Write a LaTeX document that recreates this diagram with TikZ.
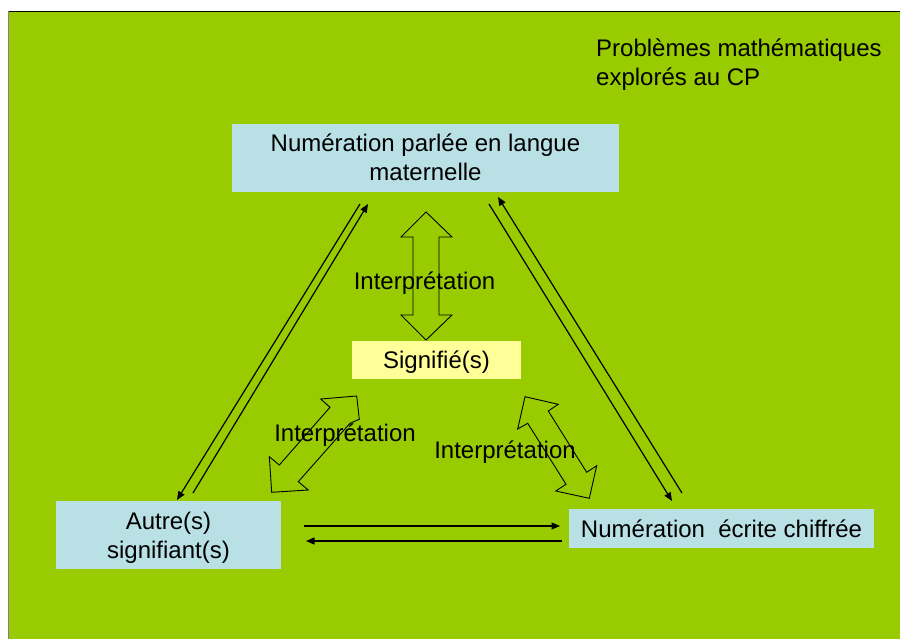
\documentclass[tikz,border=0pt]{standalone}
\usepackage{fontspec}
\setmainfont{Liberation Sans}
\usetikzlibrary{arrows.meta}
\definecolor{bg}{HTML}{99CC00}
\definecolor{boxblue}{HTML}{B9E0E4}
\definecolor{boxyellow}{HTML}{FFFF99}
\begin{document}
\begin{tikzpicture}[x=1pt,y=-1pt,
  txt/.style={font=\fontsize{24}{28.8}\selectfont, inner sep=0pt, text=black},
  bluebox/.style={fill=boxblue, draw=none, inner sep=0pt},
  yellowbox/.style={fill=boxyellow, draw=none, inner sep=0pt},
  link/.style={draw=black, line width=1.2pt, -{Triangle[length=8.5pt,width=7pt]}},
  blockarrow/.style={draw=black, line width=0.9pt, line join=miter}
]
\useasboundingbox (0,0) rectangle (900,639);
\fill[bg] (8,11) rectangle (900,639);
\draw[black, line width=1.2pt] (8,11.5) -- (900,11.5);
\draw[gray, line width=1.2pt] (8.5,11) -- (8.5,639);

% boxes
\node[bluebox, minimum width=387pt, minimum height=68pt] (parlee) at (425.5,158) {};
\node[txt, align=center] (parleeT) at (425.5,157.35) {Numération parlée en langue\\maternelle};

\node[yellowbox, minimum width=169pt, minimum height=38pt] (sig) at (436.5,360) {};
\node[txt] (sigT) at (436.5,362.05) {Signifié(s)};

\node[bluebox, minimum width=225pt, minimum height=68pt] (autre) at (168.5,535) {};
\node[txt, align=center] (autreT) at (168.5,538.15) {Autre(s)\\signifiant(s)};

\node[bluebox, minimum width=305pt, minimum height=39pt] (ecrite) at (721.5,528.5) {};
\node[txt] (ecriteT) at (721.5,528.95) {Numération\ \ écrite chiffrée};

% title
\node[txt, align=left, anchor=north west] (title) at (596,38.5) {Problèmes mathématiques\\explorés au CP};

% block double arrows
\draw[blockarrow] (426,212) -- (452,237) -- (439,237) -- (439,315) -- (452,315) -- (426,340) -- (401,315) -- (413,315) -- (413,237) -- (401,237) -- cycle;
\draw[blockarrow] (356.7,396) -- (359.3,419.3) -- (350,423.3) -- (298.3,481.7) -- (308.3,490) -- (271.7,492.3) -- (269.3,456.7) -- (279.3,465) -- (330,407.3) -- (320.7,399) -- cycle;
\draw[blockarrow] (525,396.7) -- (558.3,404.3) -- (548.3,411) -- (586.7,472.3) -- (596.7,465.7) -- (589.3,498.3) -- (555.7,491) -- (566,484.3) -- (527.7,423.3) -- (517.7,429) -- cycle;

% interpretation labels
\node[txt, anchor=base] (int1) at (424.5,289.3) {Interprétation};
\node[txt, anchor=base] (int2) at (345,441) {Interprétation};
\node[txt, anchor=base] (int3) at (505,458.3) {Interprétation};

% connector end points
\coordinate (a1) at (360,204);
\coordinate (a2) at (177,500);
\coordinate (b1) at (193,493);
\coordinate (b2) at (368,204);
\coordinate (c1) at (682,493);
\coordinate (c2) at (498,197);
\coordinate (d1) at (489,204);
\coordinate (d2) at (672,501);
\coordinate (e1) at (304,526);
\coordinate (e2) at (560,526);
\coordinate (f1) at (562,541);
\coordinate (f2) at (306,541);

\draw[link] (a1) -- (a2);
\draw[link] (b1) -- (b2);
\draw[link] (c1) -- (c2);
\draw[link] (d1) -- (d2);
\draw[link] (e1) -- (e2);
\draw[link] (f1) -- (f2);
\end{tikzpicture}
\end{document}
